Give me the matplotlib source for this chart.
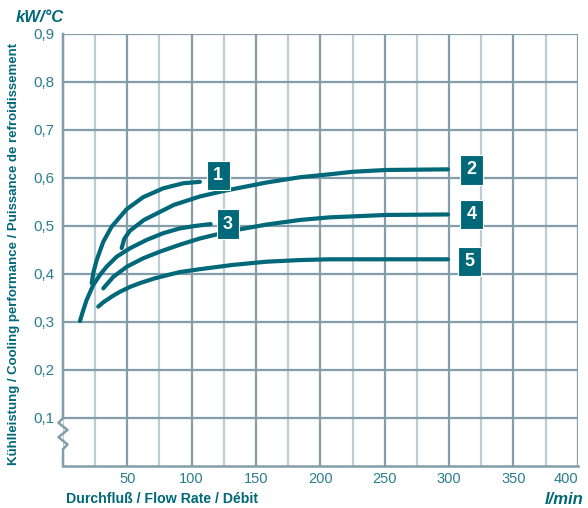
import matplotlib.pyplot as plt
import matplotlib.ticker as ticker
from matplotlib.lines import Line2D

# curve data (flow l/min, kW/°C)
c1_x = [22.3, 23.7, 26.2, 31.3, 37.8, 49.5, 62.3, 77.9, 93.4, 106.4]
c1_y = [0.381, 0.404, 0.429, 0.467, 0.4985, 0.535, 0.560, 0.5785, 0.589, 0.592]
c2_x = [45.6, 47.6, 52.0, 62.9, 86.2, 106.4, 125.8, 158.2, 184.0, 207.3, 225.4, 251.3, 299.1]
c2_y = [0.454, 0.473, 0.490, 0.5125, 0.544, 0.5615, 0.5735, 0.5906, 0.6015, 0.6077, 0.613, 0.6167, 0.618]
c3_x = [13.2, 15.8, 18.4, 23.5, 28.7, 33.9, 41.7, 52.0, 65.0, 77.9, 90.8, 102.5, 114.7]
c3_y = [0.302, 0.325, 0.346, 0.377, 0.398, 0.4152, 0.436, 0.4535, 0.471, 0.485, 0.495, 0.500, 0.504]
c4_x = [31.3, 39.1, 49.5, 62.3, 75.3, 90.8, 106.4, 121.9, 137.4, 158.2, 184.0, 207.3, 225.4, 251.3, 299.1]
c4_y = [0.370, 0.394, 0.415, 0.4327, 0.4465, 0.461, 0.474, 0.484, 0.493, 0.503, 0.5125, 0.518, 0.520, 0.523, 0.524]
c5_x = [27.4, 31.3, 39.1, 44.3, 52.0, 59.8, 71.4, 83.1, 90.8, 106.4, 132.2, 158.2, 184.0, 207.3, 299.1]
c5_y = [0.332, 0.341, 0.355, 0.363, 0.373, 0.381, 0.391, 0.399, 0.404, 0.410, 0.419, 0.4256, 0.429, 0.4306, 0.4306]

labels = ['1', '2', '3', '4', '5']
label_x = [120.7, 317.5, 128.1, 317.5, 316.0]
label_y = [0.605, 0.617, 0.504, 0.524, 0.426]

x_ticks = [50, 100, 150, 200, 250, 300, 350, 400]
y_ticks = [0.1, 0.2, 0.3, 0.4, 0.5, 0.6, 0.7, 0.8, 0.9]

teal = '#006878'
text_teal = '#2a7d8d'
grid_dark = '#849dab'
grid_light = '#bccdd6'

plt.rcParams['font.family'] = ['Liberation Sans', 'DejaVu Sans']

fig = plt.figure(figsize=(5.88, 5.08), dpi=100)
ax = fig.add_axes([0.1071, 0.0827, 0.8755, 0.8504])
ax.set_xlim(0, 400)
ax.set_ylim(0, 0.9)

# grid
ax.xaxis.set_major_locator(ticker.FixedLocator(x_ticks))
ax.xaxis.set_minor_locator(ticker.MultipleLocator(25))
ax.yaxis.set_major_locator(ticker.FixedLocator(y_ticks))
ax.grid(which='major', axis='x', color=grid_dark, linewidth=1.6)
ax.grid(which='minor', axis='x', color=grid_light, linewidth=1.6)
ax.grid(which='major', axis='y', color=grid_dark, linewidth=1.6)
ax.set_axisbelow(True)

for s in ['top', 'right', 'left']:
    ax.spines[s].set_visible(False)
ax.spines['bottom'].set_color(grid_dark)
ax.spines['bottom'].set_linewidth(1.8)

# left spine with break symbol
zx = [0, 0, -3.5, 3.5, -3.5, 3.5, 0, 0]
zy = [0.9, 0.1, 0.09, 0.075, 0.06, 0.045, 0.035, 0.0]
ax.add_line(Line2D(zx, zy, color=grid_dark, linewidth=1.8, clip_on=False))

ax.tick_params(which='both', length=0, colors=text_teal, labelsize=11)
ax.tick_params(axis='x', pad=4, labelsize=10.5)
ax.tick_params(axis='y', pad=6)
ax.set_xticklabels([str(v) for v in x_ticks])
ax.set_yticklabels([f'{v:.1f}'.replace('.', ',') for v in y_ticks])
# keep the last x label inside the figure
ax.get_xticklabels()[-1].set_horizontalalignment('right')
ax.get_xticklabels()[-1].set_x(400.5)

for xs, ys in [(c1_x, c1_y), (c2_x, c2_y), (c3_x, c3_y), (c4_x, c4_y), (c5_x, c5_y)]:
    ax.plot(xs, ys, color=teal, linewidth=3.0, solid_capstyle='round', solid_joinstyle='round')

for t, lx, ly in zip(labels, label_x, label_y):
    ax.text(lx, ly, t, color='white', fontsize=13, fontweight='bold', ha='center', va='center',
            bbox=dict(boxstyle='square,pad=0.35', fc=teal, ec='white', lw=0.8))

fig.text(0.112, 0.01, 'Durchfluß / Flow Rate / Débit', color=teal, fontsize=10.2, fontweight='bold')
fig.text(0.992, 0.008, 'l/min', color=teal, fontsize=12, fontweight='bold', style='italic', ha='right')
fig.text(0.027, 0.957, 'kW/°C', color=teal, fontsize=12, fontweight='bold', style='italic')
fig.text(0.024, 0.5, 'Kühlleistung / Cooling performance / Puissance de refroidissement',
         color=teal, fontsize=9.5, fontweight='bold', rotation=90, ha='center', va='center')

fig.savefig('out.png', dpi=100)
